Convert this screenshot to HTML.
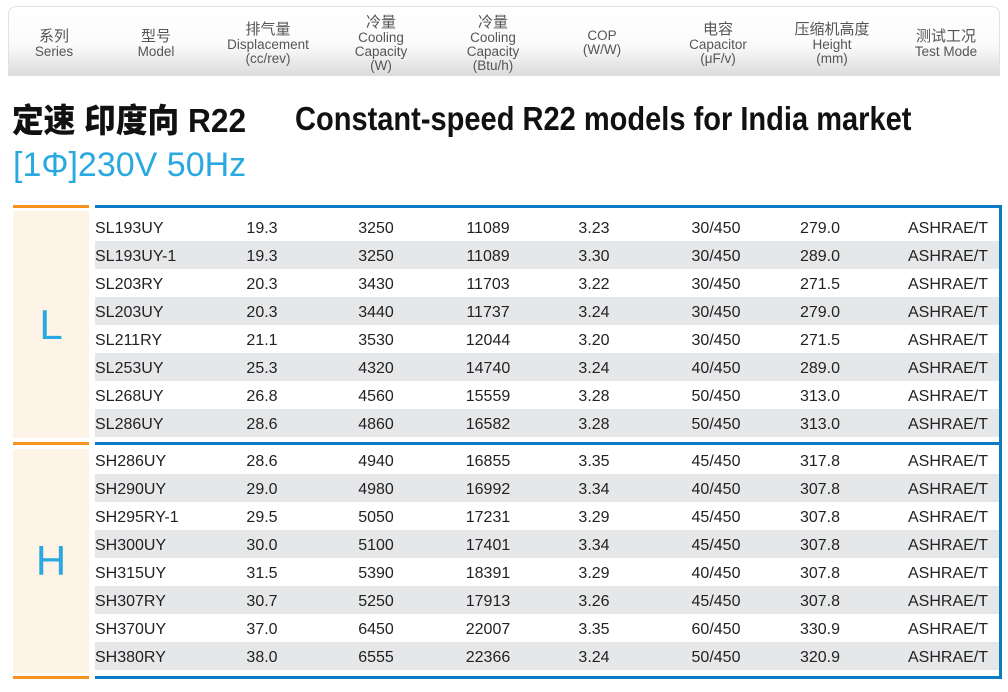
<!DOCTYPE html>
<html><head><meta charset="utf-8">
<style>
body{margin:0;width:1008px;height:692px;background:#fff;position:relative;overflow:hidden;font-family:"Liberation Sans","Noto Sans CJK SC",sans-serif;}
.hdr{position:absolute;left:8px;top:6px;width:992px;height:70px;border:1px solid #dde3e3;border-bottom:none;border-radius:8px 8px 0 0;background:linear-gradient(#fff 0%,#fbfbfb 55%,#dcdcdc 100%);box-sizing:border-box;}
.hc{position:absolute;top:0;height:70px;display:flex;flex-direction:column;justify-content:center;align-items:center;color:#555;font-size:13.5px;line-height:14px;text-align:center;transform:translateX(-50%);white-space:nowrap}
.hc .cn{font-size:15px;line-height:17px;}
.abs{position:absolute;}
.cell{position:absolute;font-size:16px;color:#222;line-height:28px;white-space:nowrap}
</style></head><body>
<div class="hdr"></div>
<div id="hcols"></div>
<div class="abs" style="left:12px;top:94px;font-size:33px;font-weight:900;color:#111;transform:scaleX(0.96);transform-origin:left;white-space:nowrap">定速 印度向 R22</div>
<div class="abs" style="left:295px;top:100px;font-size:33px;font-weight:900;color:#111;transform:scaleX(0.88);transform-origin:left;white-space:nowrap">Constant-speed R22 models for India market</div>
<div class="abs" style="left:13px;top:146px;font-size:34px;color:#2aa9e0;white-space:nowrap">[1Φ]230V 50Hz</div>
<div id="tbl"></div>
<script>
const headCn=["系列","型号","排气量","冷量","冷量","","电容","压缩机高度","测试工况"];
const headEn=[["Series"],["Model"],["Displacement","(cc/rev)"],["Cooling","Capacity","(W)"],["Cooling","Capacity","(Btu/h)"],["COP","(W/W)"],["Capacitor","(μF/v)"],["Height","(mm)"],["Test Mode"]];
const headX=[54,156,268,381,493,602,718,832,946];
const models=["SL193UY","SL193UY-1","SL203RY","SL203UY","SL211RY","SL253UY","SL268UY","SL286UY","SH286UY","SH290UY","SH295RY-1","SH300UY","SH315UY","SH307RY","SH370UY","SH380RY"];
const disp=["19.3","19.3","20.3","20.3","21.1","25.3","26.8","28.6","28.6","29.0","29.5","30.0","31.5","30.7","37.0","38.0"];
const watts=["3250","3250","3430","3440","3530","4320","4560","4860","4940","4980","5050","5100","5390","5250","6450","6555"];
const btu=["11089","11089","11703","11737","12044","14740","15559","16582","16855","16992","17231","17401","18391","17913","22007","22366"];
const cop=["3.23","3.30","3.22","3.24","3.20","3.24","3.28","3.28","3.35","3.34","3.29","3.34","3.29","3.26","3.35","3.24"];
const cap=["30/450","30/450","30/450","30/450","30/450","40/450","50/450","50/450","45/450","40/450","45/450","45/450","40/450","45/450","60/450","50/450"];
const height=["279.0","289.0","271.5","279.0","271.5","289.0","313.0","313.0","317.8","307.8","307.8","307.8","307.8","307.8","330.9","320.9"];
const mode=Array(16).fill("ASHRAE/T");
const hc=document.getElementById('hcols');
headX.forEach((x,i)=>{const d=document.createElement('div');d.className='hc';d.style.left=x+'px';d.style.top='8px';


let h='';if(headCn[i])h+='<div class="cn">'+headCn[i]+'</div>';headEn[i].forEach(t=>h+='<div>'+t+'</div>');d.innerHTML=h;hc.appendChild(d);});
const tb=document.getElementById('tbl');
function box(l,t,w,h,bg,name){const d=document.createElement('div');d.className='abs';d.style.cssText=`left:${l}px;top:${t}px;width:${w}px;height:${h}px;background:${bg}`;


tb.appendChild(d);return d;}
[[205,'top'],[442,'mid'],[676,'bottom']].forEach(([y,n])=>{box(13,y,76,3,'#f7931e','orange-rule-'+n);box(95,y,907,3,'#0a7bc4','blue-rule-'+n);});
box(999,205,3,474,'#0a7bc4','blue-right-border');
box(13,211,76,227,'#fdf3e7','series-panel-l');box(13,449,76,224,'#fdf3e7','series-panel-h');
const L=box(13,211,76,227,'transparent','series-label-l');L.innerHTML='<div style="text-align:center;line-height:227px;font-size:42px;color:#2aa9e0;font-weight:200">L</div>';
const H=box(13,449,76,224,'transparent','series-label-h');H.innerHTML='<div style="text-align:center;line-height:224px;font-size:42px;color:#2aa9e0">H</div>';
const cols=[[models,95,'l'],[disp,262,'c'],[watts,376,'c'],[btu,488,'c'],[cop,594,'c'],[cap,716,'c'],[height,820,'c'],[mode,988,'r']];
models.forEach((m,i)=>{const top=i<8?213+28*i:446+28*(i-8);
if(i%2==1)box(95,top,904,28,'#e6e7e9','row-stripe-'+i);
cols.forEach(([arr,x,al],j)=>{const c=document.createElement('div');c.className='cell';c.textContent=arr[i];c.style.top=(top+2)+'px';
if(al=='l')c.style.left=x+'px';else if(al=='r'){c.style.right=(1008-x)+'px';}else{c.style.left=x+'px';c.style.transform='translateX(-50%)';}


tb.appendChild(c);});});
</script>
</body></html>
